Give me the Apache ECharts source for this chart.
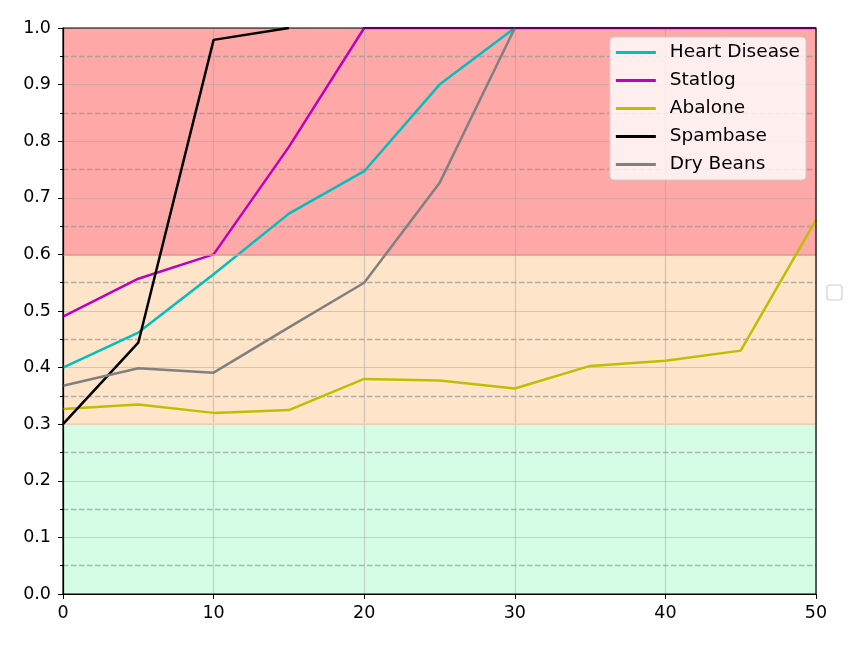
<!DOCTYPE html>
<html><head><meta charset="utf-8">
<script src="https://cdn.jsdelivr.net/npm/echarts@6/dist/echarts.min.js"></script>
<style>html,body{margin:0;padding:0;background:#fff}#c{width:861px;height:646px}</style>
</head><body><div id="c"></div>
<script>
const xs = [0, 5, 10, 15, 20, 25, 30, 35, 40, 45, 50];
const seriesNames = ['Heart Disease', 'Statlog', 'Abalone', 'Spambase', 'Dry Beans'];
const heartDisease = [0.40, 0.462, 0.565, 0.672, 0.747, 0.90, 1.0];
const statlog = [0.49, 0.557, 0.60, 0.79, 1.0, 1.0, 1.0, 1.0, 1.0, 1.0, 1.0];
const abalone = [0.327, 0.335, 0.320, 0.325, 0.380, 0.377, 0.363, 0.403, 0.412, 0.430, 0.661];
const spambase = [0.30, 0.444, 0.979, 1.0];
const dryBeans = [0.368, 0.399, 0.391, 0.471, 0.550, 0.726, 1.0];
const bands = [[0, 0.3], [0.3, 0.6], [0.6, 1.0]];
const yStep = 0.1;

const values = [heartDisease, statlog, abalone, spambase, dryBeans];
const colors = ['#00bfbf', '#bf00bf', '#bfbf00', '#000000', '#808080'];
const bandColors = ['#d5fde5', '#fee4c8', '#ffa8a8'];
const bandEdgeColors = ['#f3d2b3', '#e89090'];
const font = 'DejaVu Sans';

// one background colour per y interval, taken from the band that contains it
const intervalColors = [];
for (let k = 0; k < Math.round(1 / yStep); k++) {
  const mid = (k + 0.5) * yStep;
  const bi = bands.findIndex(b => mid >= b[0] && mid < b[1]);
  intervalColors.push(bandColors[bi]);
}

const series = seriesNames.map((n, i) => ({
  name: n, type: 'line', symbol: 'none', z: 3 + i,
  data: values[i].map((v, j) => [xs[j], v]),
  lineStyle: {color: colors[i], width: 2.5},
  itemStyle: {color: colors[i]}
}));
series.push({
  type: 'line', data: [], z: 1, silent: true,
  markLine: {silent: true, symbol: 'none', label: {show: false},
    data: [1, 2].map((bi, k) => ({yAxis: bands[bi][0], lineStyle: {color: bandEdgeColors[k], type: 'solid', width: 1.5}}))}
});

const chart = echarts.init(document.getElementById('c'), null, {renderer: 'canvas'});
chart.setOption({
  animation: false,
  backgroundColor: '#ffffff',
  grid: {left: 63, right: 45, top: 28, bottom: 52, show: false},
  legend: {
    data: seriesNames, orient: 'vertical', right: 55, top: 37,
    itemWidth: 40, itemHeight: 3, itemGap: 9,
    icon: 'rect',
    backgroundColor: 'rgba(255,255,255,0.8)', borderColor: '#cccccc', borderWidth: 1, borderRadius: 4,
    padding: [6, 6, 6, 6],
    textStyle: {fontFamily: font, fontSize: 18.5, color: '#000', padding: [0, 0, 0, 9]}
  },
  xAxis: {
    type: 'value', min: 0, max: 50, interval: 10,
    axisLine: {show: true, onZero: false, lineStyle: {color: '#000', width: 1.2}},
    axisTick: {show: true, length: 5, lineStyle: {color: '#000'}},
    axisLabel: {fontFamily: font, fontSize: 17.5, color: '#000', margin: 10},
    splitLine: {show: true, lineStyle: {color: 'rgba(160,160,160,0.45)', width: 1.2}}
  },
  yAxis: {
    type: 'value', min: 0, max: 1, interval: yStep,
    axisLine: {show: true, onZero: false, lineStyle: {color: '#000', width: 1.2}},
    axisTick: {show: true, length: 5, lineStyle: {color: '#000'}},
    minorTick: {show: true, splitNumber: 2, length: 3, lineStyle: {color: '#000'}},
    axisLabel: {fontFamily: font, fontSize: 17.5, color: '#000', margin: 12, formatter: v => v.toFixed(1)},
    splitArea: {show: true, areaStyle: {color: intervalColors, opacity: 1}},
    splitLine: {show: true, lineStyle: {color: 'rgba(160,160,160,0.45)', width: 1.2}},
    minorSplitLine: {show: true, lineStyle: {color: 'rgba(150,150,150,0.7)', width: 1.3, type: [5.5, 2.5]}}
  },
  series: series,
  graphic: [
    {type: 'rect', z: 100, silent: true, shape: {x: 63, y: 28, width: 753, height: 566}, style: {fill: 'none', stroke: '#000', lineWidth: 1.2}},
    {type: 'rect', z: 100, silent: true, shape: {x: 827, y: 285, width: 15, height: 15, r: 3}, style: {fill: '#fff', stroke: '#d0d0d0', lineWidth: 1.2}}
  ]
});
</script></body></html>
